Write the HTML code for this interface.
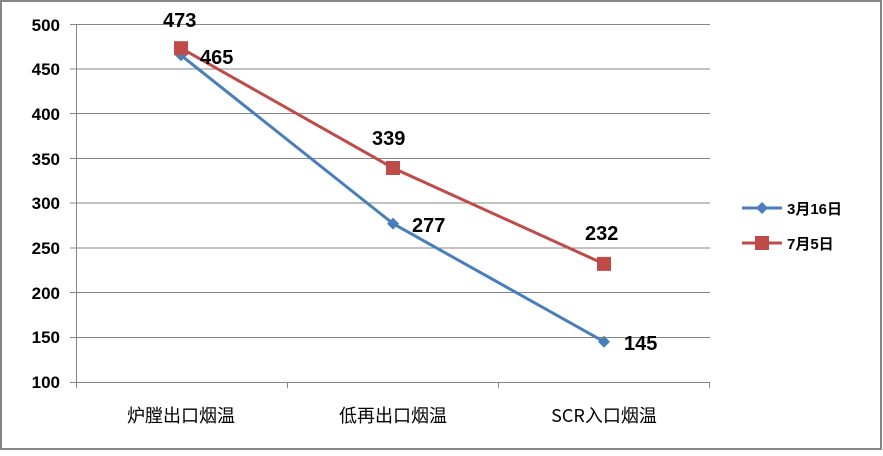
<!DOCTYPE html>
<html><head><meta charset="utf-8"><style>body{margin:0;background:#fff}</style></head><body>
<svg width="883" height="451" xmlns="http://www.w3.org/2000/svg" font-family="Liberation Sans, 'Noto Sans CJK SC', sans-serif">
<rect x="1" y="1" width="880" height="448" fill="#fff" stroke="#868686" stroke-width="2"/>
<g stroke="#868686" stroke-width="1">
<line x1="70" y1="24.5" x2="710" y2="24.5"/>
<line x1="70" y1="69" x2="710" y2="69"/>
<line x1="70" y1="113.5" x2="710" y2="113.5"/>
<line x1="70" y1="158.5" x2="710" y2="158.5"/>
<line x1="70" y1="203" x2="710" y2="203"/>
<line x1="70" y1="248" x2="710" y2="248"/>
<line x1="70" y1="292.5" x2="710" y2="292.5"/>
<line x1="70" y1="337.5" x2="710" y2="337.5"/>
<line x1="70" y1="382.5" x2="710" y2="382.5"/>
<line x1="76.5" y1="24" x2="76.5" y2="388"/>
<line x1="287.5" y1="382" x2="287.5" y2="388"/>
<line x1="498.5" y1="382" x2="498.5" y2="388"/>
<line x1="709.5" y1="382" x2="709.5" y2="388"/>
</g>
<g font-size="17" font-weight="bold" text-anchor="end" fill="#000">
<text x="60" y="31">500</text><text x="60" y="75">450</text><text x="60" y="120">400</text>
<text x="60" y="165">350</text><text x="60" y="209">300</text><text x="60" y="254">250</text>
<text x="60" y="299">200</text><text x="60" y="343">150</text><text x="60" y="388">100</text>
</g>
<g font-size="18" text-anchor="middle" fill="#000" font-family="'Noto Sans CJK SC', sans-serif">
<text x="181" y="422">炉膛出口烟温</text><text x="393" y="422">低再出口烟温</text><text x="604" y="422">SCR入口烟温</text>
</g>
<polyline points="181,55.3 393,223.6 604,341.7" fill="none" stroke="#4a7ebb" stroke-width="3"/>
<g fill="#4a7ebb">
<polygon points="181,49.3 187,55.3 181,61.3 175,55.3"/>
<polygon points="393,217.6 399,223.6 393,229.6 387,223.6"/>
<polygon points="604,335.7 610,341.7 604,347.7 598,341.7"/>
</g>
<polyline points="181,48.2 393,168 604,263.9" fill="none" stroke="#be4b48" stroke-width="3"/>
<g fill="#be4b48">
<rect x="174" y="41.2" width="14" height="14"/><rect x="386" y="161" width="14" height="14"/><rect x="597" y="256.9" width="14" height="14"/>
</g>
<g font-size="20" font-weight="bold" fill="#000">
<text x="163" y="27">473</text><text x="200" y="64">465</text>
<text x="372" y="145">339</text><text x="412" y="232">277</text>
<text x="585" y="240">232</text><text x="624" y="350">145</text>
</g>
<line x1="742" y1="208" x2="782" y2="208" stroke="#4a7ebb" stroke-width="3"/>
<polygon points="762,202 768,208 762,214 756,208" fill="#4a7ebb"/>
<line x1="742" y1="243" x2="782" y2="243" stroke="#be4b48" stroke-width="3"/>
<rect x="755" y="236" width="14" height="14" fill="#be4b48"/>
<g font-size="15" font-weight="bold" fill="#000">
<text x="787" y="214">3月16日</text><text x="787" y="249">7月5日</text>
</g>
</svg>
</body></html>
